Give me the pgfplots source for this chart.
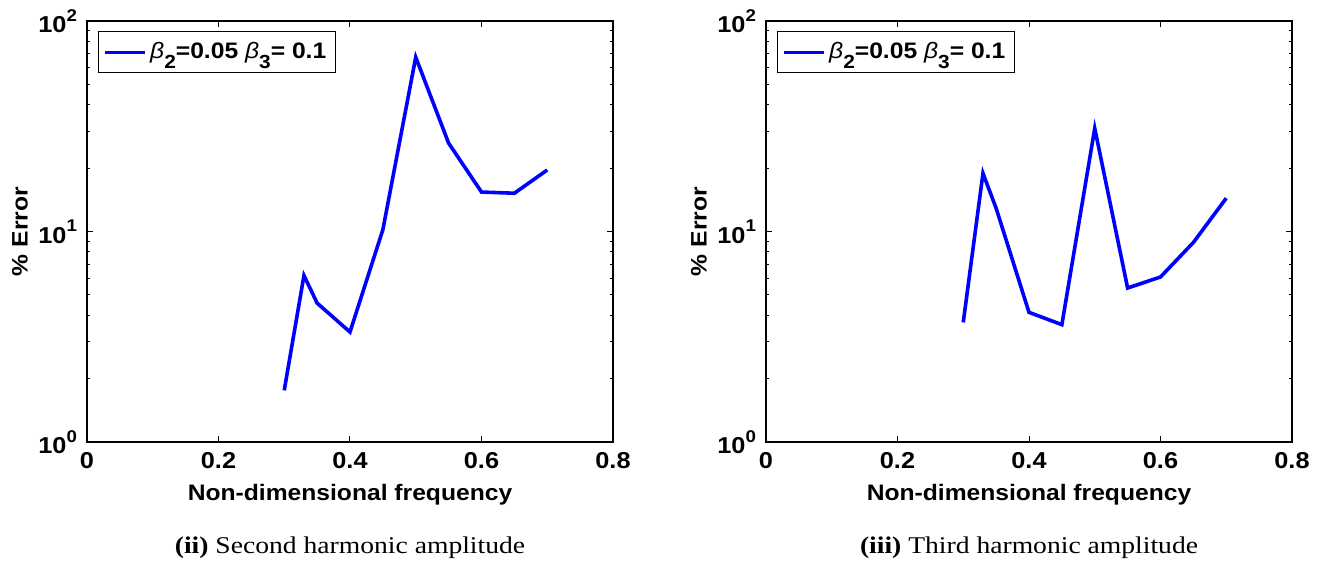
\documentclass[border=0pt]{standalone}
\usepackage{fontspec}
\setmainfont[FakeStretch=1.1]{Liberation Sans}
\newfontfamily\capfont[FakeStretch=1.15]{Liberation Serif}
\usepackage{pgfplots}
\usepackage{pgfplotstable}
\pgfplotsset{compat=1.18}

\pgfplotstableread{
x y
0.30 1.76
0.33 6.18
0.35 4.57
0.40 3.33
0.45 10.2
0.50 67.3
0.55 26.3
0.60 15.4
0.65 15.2
0.70 19.6
}\secondtab

\pgfplotstableread{
x y
0.30 3.70
0.33 18.9
0.35 12.9
0.40 4.13
0.45 3.61
0.50 30.9
0.55 5.39
0.60 6.08
0.65 8.87
0.70 14.4
}\thirdtab

\pgfplotsset{
  legend image code/.code={\draw[#1, line width=1.35pt] (0pt,0pt) -- (20pt,0pt);},
}

\newcommand{\sub}[1]{\raisebox{-0.8ex}{\fontsize{9.5}{10}\selectfont\bfseries #1}}
\newcommand{\sups}[1]{\raisebox{0.95ex}{\fontsize{8.5}{10}\selectfont\bfseries #1}}
\newcommand{\legtext}{{\normalfont\itshape β}\sub{2}=0.05 {\normalfont\itshape β}\sub{3}= 0.1}

\begin{document}
\begin{tikzpicture}
\path[use as bounding box] (0pt,0pt) rectangle (660pt,284.5pt);

\begin{semilogyaxis}[at={(43.5pt,63.5pt)}, anchor=south west,
    scale only axis, width=263pt, height=210.5pt,
    xmin=0, xmax=0.8, ymin=1, ymax=100,
    xtick={0,0.2,0.4,0.6,0.8}, xticklabels={0,0.2,0.4,0.6,0.8},
    ytick={1,10,100},
    yticklabels={10\sups{0},10\sups{1},10\sups{2}},
    tick align=inside, major tick length=3pt, minor tick length=1.7pt,
    tick style={black, line width=0.5pt},
    axis line style={black, line width=0.6pt},
    ticklabel style={font=\fontsize{11.5}{13}\selectfont\bfseries},
    xticklabel style={yshift=-1.5pt},
    yticklabel style={xshift=-1.5pt},
    xlabel={Non-dimensional frequency}, ylabel={\% Error},
    label style={font=\fontsize{11.2}{13}\selectfont\bfseries},
    xlabel style={at={(axis description cs:0.5,-0.1259)}, anchor=center},
    ylabel style={at={(axis description cs:-0.1274,0.5)}, anchor=center},
    legend style={at={(axis description cs:0.0209,0.976)}, anchor=north west,
      draw=black, line width=0.5pt, fill=white,
      font=\fontsize{11.2}{13}\selectfont\bfseries,
      inner xsep=2.5pt, inner ysep=3.5pt},
    legend cell align=left]
\addplot[color={rgb,255:red,0;green,0;blue,255}, line width=1.8pt, no markers] table[x=x,y=y] {\secondtab};
\addlegendentry{\legtext}
\end{semilogyaxis}

\begin{semilogyaxis}[at={(383pt,63.5pt)}, anchor=south west,
    scale only axis, width=263pt, height=210.5pt,
    xmin=0, xmax=0.8, ymin=1, ymax=100,
    xtick={0,0.2,0.4,0.6,0.8}, xticklabels={0,0.2,0.4,0.6,0.8},
    ytick={1,10,100},
    yticklabels={10\sups{0},10\sups{1},10\sups{2}},
    tick align=inside, major tick length=3pt, minor tick length=1.7pt,
    tick style={black, line width=0.5pt},
    axis line style={black, line width=0.6pt},
    ticklabel style={font=\fontsize{11.5}{13}\selectfont\bfseries},
    xticklabel style={yshift=-1.5pt},
    yticklabel style={xshift=-1.5pt},
    xlabel={Non-dimensional frequency}, ylabel={\% Error},
    label style={font=\fontsize{11.2}{13}\selectfont\bfseries},
    xlabel style={at={(axis description cs:0.5,-0.1259)}, anchor=center},
    ylabel style={at={(axis description cs:-0.1274,0.5)}, anchor=center},
    legend style={at={(axis description cs:0.0209,0.976)}, anchor=north west,
      draw=black, line width=0.5pt, fill=white,
      font=\fontsize{11.2}{13}\selectfont\bfseries,
      inner xsep=2.5pt, inner ysep=3.5pt},
    legend cell align=left]
\addplot[color={rgb,255:red,0;green,0;blue,255}, line width=1.8pt, no markers] table[x=x,y=y] {\thirdtab};
\addlegendentry{\legtext}
\end{semilogyaxis}

\node[font=\capfont\fontsize{12}{14}\selectfont, anchor=center] at (175pt,10.5pt) {\textbf{(ii)} Second harmonic amplitude};
\node[font=\capfont\fontsize{12}{14}\selectfont, anchor=center] at (514.5pt,10.5pt) {\textbf{(iii)} Third harmonic amplitude};
\end{tikzpicture}
\end{document}
